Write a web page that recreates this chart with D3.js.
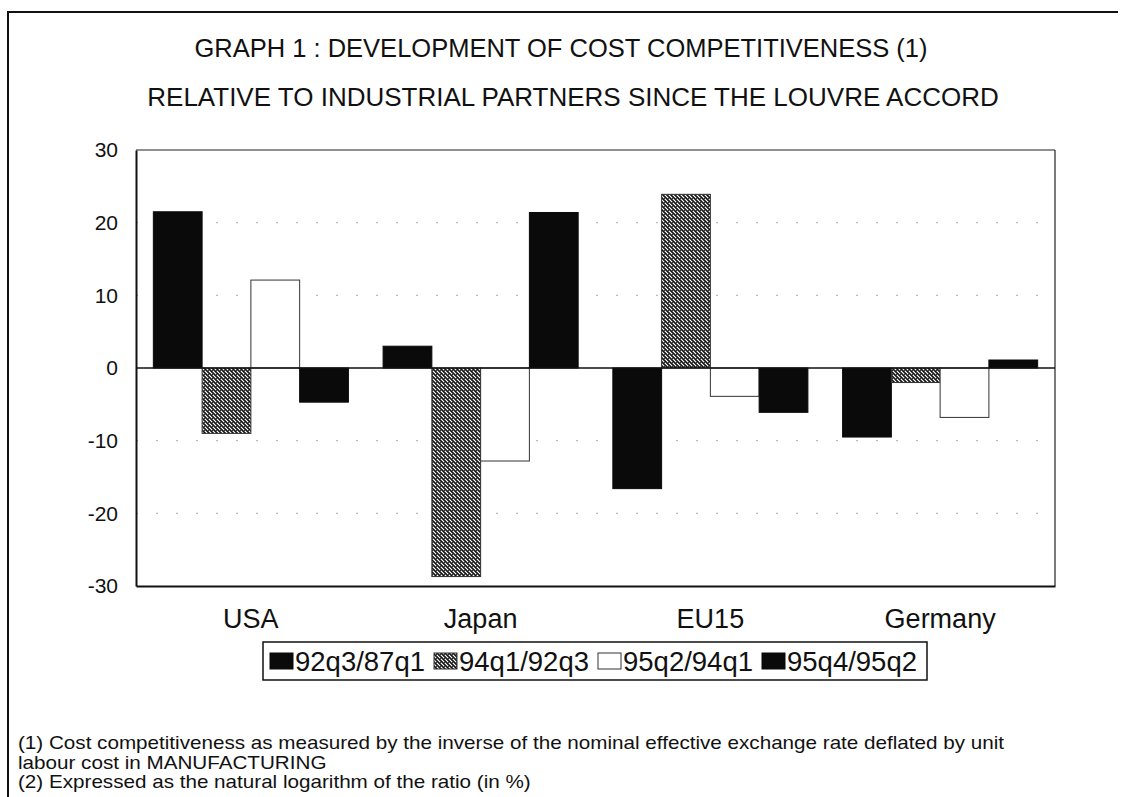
<!DOCTYPE html>
<html><head><meta charset="utf-8">
<script src="https://cdn.jsdelivr.net/npm/d3@7"></script>
<style>
html,body{margin:0;padding:0;background:#fff;}
svg{display:block;font-family:"Liberation Sans",Arial,sans-serif;}
</style></head>
<body>
<svg id="chart" width="1121" height="797"></svg>
<script>
const categories = ["USA", "Japan", "EU15", "Germany"];
const seriesNames = ["92q3/87q1", "94q1/92q3", "95q2/94q1", "95q4/95q2"];
const s1 = [21.5, 3.0, -16.6, -9.5];
const s2 = [-9.0, -28.7, 23.9, -2.0];
const s3 = [12.1, -12.8, -3.9, -6.8];
const s4 = [-4.7, 21.4, -6.1, 1.1];
const yTicks = [30, 20, 10, 0, -10, -20, -30];
const titleLines = ["GRAPH 1 : DEVELOPMENT OF COST COMPETITIVENESS (1)",
  "RELATIVE TO INDUSTRIAL PARTNERS SINCE THE LOUVRE ACCORD"];
const notes = ["(1) Cost competitiveness as measured by the inverse of the nominal effective exchange rate deflated by unit",
  "labour cost in MANUFACTURING",
  "(2) Expressed as the natural logarithm of the ratio (in %)"];

const seriesValues = [s1, s2, s3, s4];
const svg = d3.select("#chart");

// patterns
const defs = svg.append("defs");
const pat = defs.append("pattern").attr("id","hatch").attr("patternUnits","userSpaceOnUse")
  .attr("width",4).attr("height",4);
pat.append("rect").attr("width",4).attr("height",4).attr("fill","#fff");
pat.append("path").attr("d","M0,0 L4,4 M-1,3 L1,5 M3,-1 L5,1").attr("stroke","#111").attr("stroke-width",1.6);
pat.append("rect").attr("x",0).attr("y",2).attr("width",1).attr("height",1).attr("fill","#333");

const fills = ["#0a0a0a", "url(#hatch)", "#ffffff", "#0a0a0a"];
const strokes = ["#0a0a0a", "#333", "#333", "#0a0a0a"];

// outer frame
svg.append("path").attr("d","M8,797 L8,12 L1118,12").attr("fill","none").attr("stroke","#111").attr("stroke-width",2);

// titles
svg.selectAll("text.title").data(titleLines).join("text").attr("class","title")
  .attr("x",(d,i)=> i===0 ? 561 : 573).attr("y",(d,i)=>57+i*49).attr("text-anchor","middle")
  .attr("font-size",(d,i)=> i===0 ? 25.5 : 26).attr("fill","#111").text(d=>d);

const L=136, R=1055, T=150, B=586;
const x = d3.scaleBand().domain(categories).range([L,R]).paddingInner(0.151).paddingOuter(0.0755);
const xs = d3.scaleBand().domain(d3.range(4)).range([0,x.bandwidth()]);
const y = d3.scaleLinear().domain([-30,30]).range([B,T]);

// gridlines (faint dotted)
svg.append("g").selectAll("line").data(yTicks.filter(t=>t!==0 && Math.abs(t)!==30)).join("line")
  .attr("x1",L).attr("x2",R).attr("y1",d=>y(d)).attr("y2",d=>y(d))
  .attr("stroke","#aaa").attr("stroke-width",1).attr("stroke-dasharray","2,18");

// bars
const gBars = svg.append("g");
seriesValues.forEach((vals,si)=>{
  gBars.append("g").selectAll("rect").data(vals).join("rect")
    .attr("x",(d,i)=>x(categories[i])+xs(si))
    .attr("width",xs.bandwidth())
    .attr("y",d=>y(Math.max(0,d)))
    .attr("height",d=>Math.abs(y(d)-y(0)))
    .attr("fill",fills[si]).attr("stroke",strokes[si]).attr("stroke-width",1);
});

// frame of plot
svg.append("line").attr("x1",L).attr("x2",R).attr("y1",T).attr("y2",T).attr("stroke","#222").attr("stroke-width",1.2);
svg.append("line").attr("x1",R).attr("x2",R).attr("y1",T).attr("y2",B).attr("stroke","#222").attr("stroke-width",1.2);
svg.append("line").attr("x1",L).attr("x2",R).attr("y1",y(0)).attr("y2",y(0)).attr("stroke","#111").attr("stroke-width",1.6);

// axes
const yAxis = svg.append("g").attr("transform",`translate(${L},0)`)
  .call(d3.axisLeft(y).tickValues(yTicks).tickSize(0).tickPadding(18).tickFormat(d=>String(d)));
yAxis.select(".domain").attr("stroke","#111").attr("stroke-width",2);
yAxis.selectAll("text").attr("font-size",21).attr("fill","#111").attr("font-family","Liberation Sans, Arial, sans-serif");

const xAxis = svg.append("g").attr("transform",`translate(0,${B})`)
  .call(d3.axisBottom(x).tickSize(0).tickPadding(23).tickSizeOuter(0));
xAxis.select(".domain").attr("stroke","#111").attr("stroke-width",2);
xAxis.selectAll("text").attr("font-size",27).attr("fill","#111").attr("font-family","Liberation Sans, Arial, sans-serif");

// legend
const lg = svg.append("g");
const legX0=263, legY0=642, legW=664, legH=38;
lg.append("rect").attr("x",legX0).attr("y",legY0).attr("width",legW).attr("height",legH)
  .attr("fill","#fff").attr("stroke","#111").attr("stroke-width",1.5);
const itemStep = 164;
seriesNames.forEach((n,i)=>{
  const ix = 270 + i*itemStep;
  lg.append("rect").attr("x",ix).attr("y",653).attr("width",23).attr("height",16)
    .attr("fill",fills[i]).attr("stroke",strokes[i]).attr("stroke-width",1);
  lg.append("text").attr("x",ix+25).attr("y",671).attr("font-size",27.5).attr("fill","#111").text(n);
});

// notes (slightly wide lettering, as in the scanned source)
const ng = svg.append("g").attr("transform","translate(18,0) scale(1.18,1)");
ng.selectAll("text.note").data(notes).join("text").attr("class","note")
  .attr("x",0).attr("y",(d,i)=>749+i*19.5).attr("font-size",17.5).attr("fill","#111").text(d=>d);
</script>
</body></html>
